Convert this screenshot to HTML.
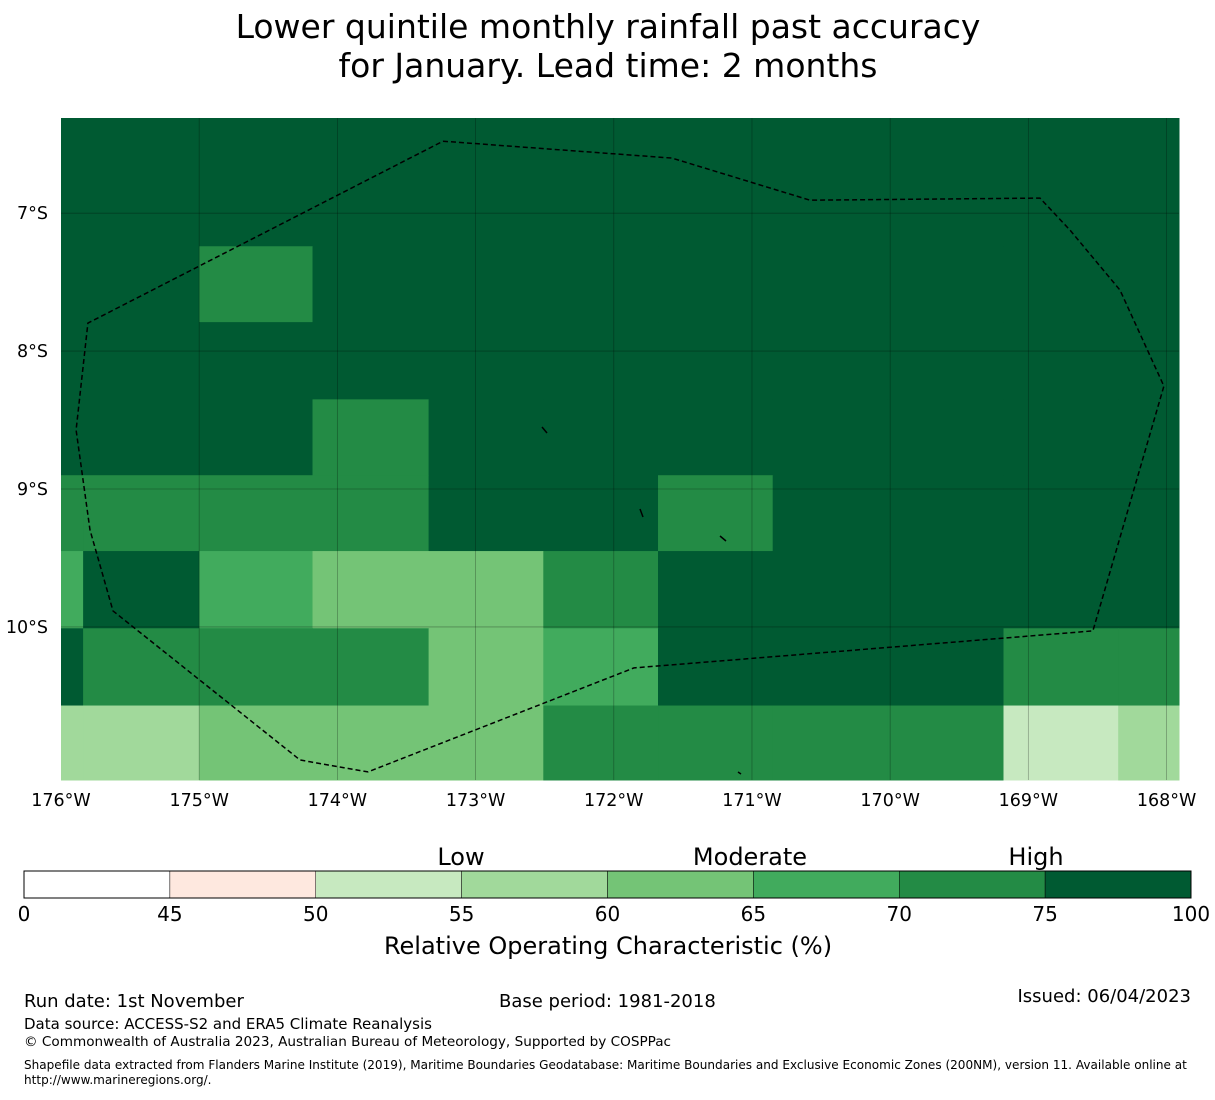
<!DOCTYPE html>
<html><head><meta charset="utf-8"><style>
body{margin:0;background:#fff;font-family:"Liberation Sans","DejaVu Sans",sans-serif;}
svg text{font-family:"DejaVu Sans","Liberation Sans",sans-serif;}
</style></head><body>
<svg id="chart" width="1215" height="1095" xmlns="http://www.w3.org/2000/svg">
<text x="608" y="38" font-size="33" text-anchor="middle">Lower quintile monthly rainfall past accuracy</text>
<text x="608" y="77" font-size="33" text-anchor="middle">for January. Lead time: 2 months</text>
<g id="map"></g>
<g id="cbar"></g>
<text x="24" y="1007" font-size="18">Run date: 1st November</text>
<text x="499" y="1007" font-size="18">Base period: 1981-2018</text>
<text x="1191" y="1002" font-size="18" text-anchor="end">Issued: 06/04/2023</text>
<text x="24" y="1029" font-size="15">Data source: ACCESS-S2 and ERA5 Climate Reanalysis</text>
<text x="24" y="1046" font-size="13.6">© Commonwealth of Australia 2023, Australian Bureau of Meteorology, Supported by COSPPac</text>
<text x="24" y="1069" font-size="12.05">Shapefile data extracted from Flanders Marine Institute (2019), Maritime Boundaries Geodatabase: Maritime Boundaries and Exclusive Economic Zones (200NM), version 11. Available online at</text>
<text x="24" y="1084" font-size="12.05">http://www.marineregions.org/.</text>
</svg>
<script>
const lonEdges=[-176,-175.84,-175.0,-174.18,-173.34,-172.51,-171.68,-170.85,-170.02,-169.18,-168.35,-167.91];
const latEdges=[-6.31,-7.24,-7.79,-8.35,-8.90,-9.45,-10.01,-10.57,-11.11];
const rocValues=[
[77,77,77,77,77,77,77,77,77,77,77],
[77,77,72,77,77,77,77,77,77,77,77],
[77,77,77,77,77,77,77,77,77,77,77],
[77,77,77,72,77,77,77,77,77,77,77],
[72,72,72,72,77,77,72,77,77,77,77],
[67,77,67,62,62,72,77,77,77,77,77],
[77,72,72,72,62,67,77,77,77,72,72],
[57,57,62,62,62,72,72,72,72,52,57]];
const binEdges=[0,45,50,55,60,65,70,75,100];
const binColors=["#ffffff","#fee8df","#c7e9c0","#a1d99b","#74c476","#41ab5d","#238b45","#005a32"];
const lonTicks=[-176,-175,-174,-173,-172,-171,-170,-169,-168];
const lonTickLabels=["176°W","175°W","174°W","173°W","172°W","171°W","170°W","169°W","168°W"];
const latTicks=[-7,-8,-9,-10];
const latTickLabels=["7°S","8°S","9°S","10°S"];
const eezLon=[-173.236,-171.579,-170.580,-168.916,-168.699,-168.337,-168.019,-168.533,-171.854,-173.779,-174.198,-174.271,-175.624,-175.790,-175.891,-175.805,-173.236];
const eezLat=[-6.478,-6.601,-6.906,-6.891,-7.123,-7.558,-8.254,-10.029,-10.297,-11.051,-10.978,-10.964,-9.884,-9.297,-8.572,-7.797,-6.478];
const NS="http://www.w3.org/2000/svg";
const X0=61,X1=1179,Y0=118,Y1=780;
const xS=l=>X0+(l-lonEdges[0])/(lonEdges[lonEdges.length-1]-lonEdges[0])*(X1-X0);
const yS=a=>Y0+(latEdges[0]-a)/(latEdges[0]-latEdges[latEdges.length-1])*(Y1-Y0);
function colorFor(v){for(let i=0;i<binColors.length;i++){if(v<binEdges[i+1])return binColors[i];}return binColors[binColors.length-1];}
function mk(tag,attrs,parent){const e=document.createElementNS(NS,tag);for(const k in attrs)e.setAttribute(k,attrs[k]);parent.appendChild(e);return e;}
const map=document.getElementById('map');
for(let r=0;r<rocValues.length;r++){for(let c=0;c<rocValues[r].length;c++){
 const x=xS(lonEdges[c]),x2=xS(lonEdges[c+1]),y=yS(latEdges[r]),y2=yS(latEdges[r+1]);
 const e=mk('rect',{x:x,y:y,width:x2-x+0.5,height:y2-y+0.5,fill:colorFor(rocValues[r][c])},map);
 
 
}}
lonTicks.forEach((l,i)=>{const x=xS(l);
 if(x>X0+1&&x<X1){const g=mk('line',{x1:x,x2:x,y1:Y0,y2:Y1,stroke:'#000','stroke-opacity':0.3,'stroke-width':0.8},map);
 
 }
 const t=mk('text',{x:x,y:806,'font-size':17.5,'text-anchor':'middle'},map);t.textContent=lonTickLabels[i];
 
 
});
latTicks.forEach((a,i)=>{const y=yS(a);
 const g=mk('line',{x1:X0,x2:X1,y1:y,y2:y,stroke:'#000','stroke-opacity':0.3,'stroke-width':0.8},map);
 
 
 const t=mk('text',{x:48,y:y+6,'font-size':17.5,'text-anchor':'end'},map);t.textContent=latTickLabels[i];
 
 
});
const pts=eezLon.map((l,i)=>xS(l).toFixed(1)+','+yS(eezLat[i]).toFixed(1)).join(' ');
const eez=mk('polyline',{points:pts,fill:'none',stroke:'#000','stroke-width':1.5,'stroke-dasharray':'5,3'},map);


[[542,427,547,433],[640,509,643,517],[720,536,726,541],[738,772,741,774]].forEach(p=>{
 const e=mk('line',{x1:p[0],y1:p[1],x2:p[2],y2:p[3],stroke:'#000','stroke-width':1.5},map);
 
 
});
const cb=document.getElementById('cbar');
const CX0=24,CX1=1191,CY=871,CH=27;
const segW=(CX1-CX0)/(binColors.length);
binColors.forEach((c,i)=>{const e=mk('rect',{x:CX0+i*segW,y:CY,width:segW,height:CH,fill:c,stroke:'#000','stroke-width':0.5},cb);
 
 });
mk('rect',{x:CX0,y:CY,width:CX1-CX0,height:CH,fill:'none',stroke:'#000','stroke-width':1},cb);
binEdges.forEach((v,i)=>{const t=mk('text',{x:CX0+i*segW,y:921,'font-size':20,'text-anchor':'middle'},cb);t.textContent=v;
 
 });
[["Low",461],["Moderate",750],["High",1036]].forEach(p=>{const t=mk('text',{x:p[1],y:865,'font-size':24,'text-anchor':'middle'},cb);t.textContent=p[0];
 
 });
const ct=mk('text',{x:608,y:954,'font-size':24,'text-anchor':'middle'},cb);ct.textContent="Relative Operating Characteristic (%)";


</script>
</body></html>
